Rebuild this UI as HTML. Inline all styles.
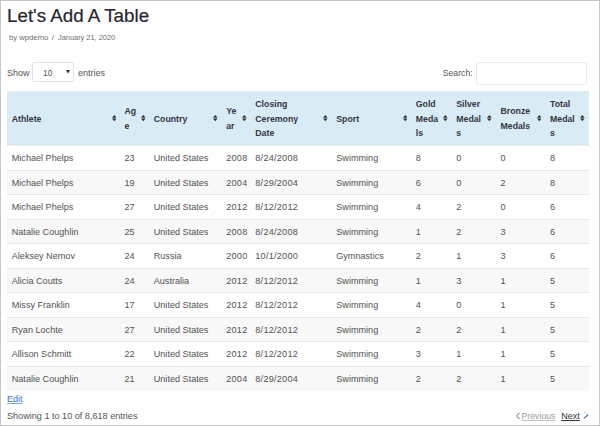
<!DOCTYPE html><html><head><meta charset="utf-8"><style>
*{margin:0;padding:0;box-sizing:border-box}
html,body{width:600px;height:426px;overflow:hidden;background:#fff}
body{font-family:"Liberation Sans",sans-serif;position:relative}
#frame{position:absolute;left:0;top:0;width:600px;height:426px;border:1px solid #c6c6c6}
.a{position:absolute;white-space:nowrap}
h1{position:absolute;left:7px;top:5px;font-size:18.8px;font-weight:400;color:#262630;line-height:22px;white-space:nowrap;-webkit-text-stroke:0.2px #262630}
.by{left:9px;top:32.8px;font-size:7.7px;color:#6d6d6d;line-height:10px}
.ctl{font-size:9px;color:#555;line-height:12px}
.sel{position:absolute;left:31.8px;top:62.3px;width:42.3px;height:19.5px;border:1px solid #e3e3e3;border-radius:2px;background:#fff}
.inp{position:absolute;left:475.7px;top:62px;width:111.8px;height:22.6px;border:1px solid #e9e9e9;border-radius:2.5px;background:#fff}
.thead{position:absolute;left:7px;top:91px;width:582px;height:54px;background:#d9ebf5;border-bottom:1px solid #d3e5ef}
.hl{position:absolute;left:7px;top:145px;width:582px;height:1px;background:#efeeed}
.th{position:absolute;font-size:8.75px;font-weight:700;color:#353540;line-height:14.7px;white-space:nowrap}
.row{position:absolute;left:7px;width:582px}
.row.odd{background:#fff}
.row.even{background:#f8f8f8}
.bd{position:absolute;left:7px;width:582px;height:1px;background:#e7e7e7}
.td{position:absolute;font-size:9.1px;color:#525252;line-height:12px;white-space:nowrap}
.si{position:absolute;width:4.6px;height:6.2px}
</style></head><body>
<div id="frame"></div>
<h1>Let's Add A Table</h1>
<div class="a by">by wpdemo</div><div class="a by" style="left:51.8px">/</div><div class="a by" style="left:58px;font-size:7.4px">January 21, 2020</div>
<div class="a ctl" style="left:7px;top:66.6px">Show</div>
<div class="sel"></div>
<div class="a ctl" style="left:43px;top:66.5px;font-size:8.4px">10</div>
<svg class="a" style="left:65.8px;top:70px" width="4" height="3.5" viewBox="0 0 4 3.5"><path d="M0 0H4L2 3.5Z" fill="#333"/></svg>
<div class="a ctl" style="left:78px;top:66.6px">entries</div>
<div class="a ctl" style="left:442.7px;top:67px;font-size:8.7px">Search:</div>
<div class="inp"></div>
<div class="thead"></div>
<div class="th" style="left:11.75px;top:111.75px">Athlete</div>
<svg class="si" style="left:111.70px;top:115px" viewBox="0 0 4.6 6.2"><path d="M0 2.7H4.6L2.3 0Z M0 3.5H4.6L2.3 6.2Z" fill="#2e2e38"/></svg>
<div class="th" style="left:124.5px;top:104.40px">Ag<br>e</div>
<svg class="si" style="left:141.10px;top:115px" viewBox="0 0 4.6 6.2"><path d="M0 2.7H4.6L2.3 0Z M0 3.5H4.6L2.3 6.2Z" fill="#2e2e38"/></svg>
<div class="th" style="left:153.75px;top:111.75px">Country</div>
<svg class="si" style="left:213.45px;top:115px" viewBox="0 0 4.6 6.2"><path d="M0 2.7H4.6L2.3 0Z M0 3.5H4.6L2.3 6.2Z" fill="#2e2e38"/></svg>
<div class="th" style="left:226.25px;top:104.40px">Ye<br>ar</div>
<svg class="si" style="left:242.10px;top:115px" viewBox="0 0 4.6 6.2"><path d="M0 2.7H4.6L2.3 0Z M0 3.5H4.6L2.3 6.2Z" fill="#2e2e38"/></svg>
<div class="th" style="left:255.3px;top:97.05px">Closing<br>Ceremony<br>Date</div>
<svg class="si" style="left:323.20px;top:115px" viewBox="0 0 4.6 6.2"><path d="M0 2.7H4.6L2.3 0Z M0 3.5H4.6L2.3 6.2Z" fill="#2e2e38"/></svg>
<div class="th" style="left:336.25px;top:111.75px">Sport</div>
<svg class="si" style="left:402.70px;top:115px" viewBox="0 0 4.6 6.2"><path d="M0 2.7H4.6L2.3 0Z M0 3.5H4.6L2.3 6.2Z" fill="#2e2e38"/></svg>
<div class="th" style="left:415.75px;top:97.05px">Gold<br>Meda<br>ls</div>
<svg class="si" style="left:443.45px;top:115px" viewBox="0 0 4.6 6.2"><path d="M0 2.7H4.6L2.3 0Z M0 3.5H4.6L2.3 6.2Z" fill="#2e2e38"/></svg>
<div class="th" style="left:456.25px;top:97.05px">Silver<br>Medal<br>s</div>
<svg class="si" style="left:487.20px;top:115px" viewBox="0 0 4.6 6.2"><path d="M0 2.7H4.6L2.3 0Z M0 3.5H4.6L2.3 6.2Z" fill="#2e2e38"/></svg>
<div class="th" style="left:500.5px;top:104.40px">Bronze<br>Medals</div>
<svg class="si" style="left:536.60px;top:115px" viewBox="0 0 4.6 6.2"><path d="M0 2.7H4.6L2.3 0Z M0 3.5H4.6L2.3 6.2Z" fill="#2e2e38"/></svg>
<div class="th" style="left:550px;top:97.05px">Total<br>Medal<br>s</div>
<svg class="si" style="left:580.20px;top:115px" viewBox="0 0 4.6 6.2"><path d="M0 2.7H4.6L2.3 0Z M0 3.5H4.6L2.3 6.2Z" fill="#2e2e38"/></svg>
<div class="hl"></div>
<div class="row odd" style="top:146px;height:24px"></div>
<div class="td" style="left:11.75px;top:152.30px">Michael Phelps</div>
<div class="td" style="left:124.5px;top:152.30px">23</div>
<div class="td" style="left:153.75px;top:152.30px">United States</div>
<div class="td" style="left:226.25px;top:152.30px;letter-spacing:0.25px">2008</div>
<div class="td" style="left:255.3px;top:152.30px;letter-spacing:0.25px">8/24/2008</div>
<div class="td" style="left:336.25px;top:152.30px">Swimming</div>
<div class="td" style="left:415.75px;top:152.30px">8</div>
<div class="td" style="left:456.25px;top:152.30px">0</div>
<div class="td" style="left:500.5px;top:152.30px">0</div>
<div class="td" style="left:550px;top:152.30px">8</div>
<div class="row even" style="top:171px;height:23px"></div>
<div class="bd" style="top:170px"></div>
<div class="td" style="left:11.75px;top:177.30px">Michael Phelps</div>
<div class="td" style="left:124.5px;top:177.30px">19</div>
<div class="td" style="left:153.75px;top:177.30px">United States</div>
<div class="td" style="left:226.25px;top:177.30px;letter-spacing:0.25px">2004</div>
<div class="td" style="left:255.3px;top:177.30px;letter-spacing:0.25px">8/29/2004</div>
<div class="td" style="left:336.25px;top:177.30px">Swimming</div>
<div class="td" style="left:415.75px;top:177.30px">6</div>
<div class="td" style="left:456.25px;top:177.30px">0</div>
<div class="td" style="left:500.5px;top:177.30px">2</div>
<div class="td" style="left:550px;top:177.30px">8</div>
<div class="row odd" style="top:195px;height:24px"></div>
<div class="bd" style="top:194px"></div>
<div class="td" style="left:11.75px;top:201.30px">Michael Phelps</div>
<div class="td" style="left:124.5px;top:201.30px">27</div>
<div class="td" style="left:153.75px;top:201.30px">United States</div>
<div class="td" style="left:226.25px;top:201.30px;letter-spacing:0.25px">2012</div>
<div class="td" style="left:255.3px;top:201.30px;letter-spacing:0.25px">8/12/2012</div>
<div class="td" style="left:336.25px;top:201.30px">Swimming</div>
<div class="td" style="left:415.75px;top:201.30px">4</div>
<div class="td" style="left:456.25px;top:201.30px">2</div>
<div class="td" style="left:500.5px;top:201.30px">0</div>
<div class="td" style="left:550px;top:201.30px">6</div>
<div class="row even" style="top:220px;height:23px"></div>
<div class="bd" style="top:219px"></div>
<div class="td" style="left:11.75px;top:226.30px">Natalie Coughlin</div>
<div class="td" style="left:124.5px;top:226.30px">25</div>
<div class="td" style="left:153.75px;top:226.30px">United States</div>
<div class="td" style="left:226.25px;top:226.30px;letter-spacing:0.25px">2008</div>
<div class="td" style="left:255.3px;top:226.30px;letter-spacing:0.25px">8/24/2008</div>
<div class="td" style="left:336.25px;top:226.30px">Swimming</div>
<div class="td" style="left:415.75px;top:226.30px">1</div>
<div class="td" style="left:456.25px;top:226.30px">2</div>
<div class="td" style="left:500.5px;top:226.30px">3</div>
<div class="td" style="left:550px;top:226.30px">6</div>
<div class="row odd" style="top:244px;height:24px"></div>
<div class="bd" style="top:243px"></div>
<div class="td" style="left:11.75px;top:250.30px">Aleksey Nemov</div>
<div class="td" style="left:124.5px;top:250.30px">24</div>
<div class="td" style="left:153.75px;top:250.30px">Russia</div>
<div class="td" style="left:226.25px;top:250.30px;letter-spacing:0.25px">2000</div>
<div class="td" style="left:255.3px;top:250.30px;letter-spacing:0.25px">10/1/2000</div>
<div class="td" style="left:336.25px;top:250.30px">Gymnastics</div>
<div class="td" style="left:415.75px;top:250.30px">2</div>
<div class="td" style="left:456.25px;top:250.30px">1</div>
<div class="td" style="left:500.5px;top:250.30px">3</div>
<div class="td" style="left:550px;top:250.30px">6</div>
<div class="row even" style="top:269px;height:23px"></div>
<div class="bd" style="top:268px"></div>
<div class="td" style="left:11.75px;top:275.30px">Alicia Coutts</div>
<div class="td" style="left:124.5px;top:275.30px">24</div>
<div class="td" style="left:153.75px;top:275.30px">Australia</div>
<div class="td" style="left:226.25px;top:275.30px;letter-spacing:0.25px">2012</div>
<div class="td" style="left:255.3px;top:275.30px;letter-spacing:0.25px">8/12/2012</div>
<div class="td" style="left:336.25px;top:275.30px">Swimming</div>
<div class="td" style="left:415.75px;top:275.30px">1</div>
<div class="td" style="left:456.25px;top:275.30px">3</div>
<div class="td" style="left:500.5px;top:275.30px">1</div>
<div class="td" style="left:550px;top:275.30px">5</div>
<div class="row odd" style="top:293px;height:24px"></div>
<div class="bd" style="top:292px"></div>
<div class="td" style="left:11.75px;top:299.30px">Missy Franklin</div>
<div class="td" style="left:124.5px;top:299.30px">17</div>
<div class="td" style="left:153.75px;top:299.30px">United States</div>
<div class="td" style="left:226.25px;top:299.30px;letter-spacing:0.25px">2012</div>
<div class="td" style="left:255.3px;top:299.30px;letter-spacing:0.25px">8/12/2012</div>
<div class="td" style="left:336.25px;top:299.30px">Swimming</div>
<div class="td" style="left:415.75px;top:299.30px">4</div>
<div class="td" style="left:456.25px;top:299.30px">0</div>
<div class="td" style="left:500.5px;top:299.30px">1</div>
<div class="td" style="left:550px;top:299.30px">5</div>
<div class="row even" style="top:318px;height:23px"></div>
<div class="bd" style="top:317px"></div>
<div class="td" style="left:11.75px;top:324.30px">Ryan Lochte</div>
<div class="td" style="left:124.5px;top:324.30px">27</div>
<div class="td" style="left:153.75px;top:324.30px">United States</div>
<div class="td" style="left:226.25px;top:324.30px;letter-spacing:0.25px">2012</div>
<div class="td" style="left:255.3px;top:324.30px;letter-spacing:0.25px">8/12/2012</div>
<div class="td" style="left:336.25px;top:324.30px">Swimming</div>
<div class="td" style="left:415.75px;top:324.30px">2</div>
<div class="td" style="left:456.25px;top:324.30px">2</div>
<div class="td" style="left:500.5px;top:324.30px">1</div>
<div class="td" style="left:550px;top:324.30px">5</div>
<div class="row odd" style="top:342px;height:24px"></div>
<div class="bd" style="top:341px"></div>
<div class="td" style="left:11.75px;top:348.30px">Allison Schmitt</div>
<div class="td" style="left:124.5px;top:348.30px">22</div>
<div class="td" style="left:153.75px;top:348.30px">United States</div>
<div class="td" style="left:226.25px;top:348.30px;letter-spacing:0.25px">2012</div>
<div class="td" style="left:255.3px;top:348.30px;letter-spacing:0.25px">8/12/2012</div>
<div class="td" style="left:336.25px;top:348.30px">Swimming</div>
<div class="td" style="left:415.75px;top:348.30px">3</div>
<div class="td" style="left:456.25px;top:348.30px">1</div>
<div class="td" style="left:500.5px;top:348.30px">1</div>
<div class="td" style="left:550px;top:348.30px">5</div>
<div class="row even" style="top:367px;height:24px"></div>
<div class="bd" style="top:366px"></div>
<div class="td" style="left:11.75px;top:373.30px">Natalie Coughlin</div>
<div class="td" style="left:124.5px;top:373.30px">21</div>
<div class="td" style="left:153.75px;top:373.30px">United States</div>
<div class="td" style="left:226.25px;top:373.30px;letter-spacing:0.25px">2004</div>
<div class="td" style="left:255.3px;top:373.30px;letter-spacing:0.25px">8/29/2004</div>
<div class="td" style="left:336.25px;top:373.30px">Swimming</div>
<div class="td" style="left:415.75px;top:373.30px">2</div>
<div class="td" style="left:456.25px;top:373.30px">2</div>
<div class="td" style="left:500.5px;top:373.30px">1</div>
<div class="td" style="left:550px;top:373.30px">5</div>
<div class="a" style="left:7px;top:392.8px;font-size:9px;color:#2f72d8;text-decoration:underline;text-decoration-color:#7aa6e8;line-height:12px">Edit</div>
<div class="a ctl" style="left:7px;top:409.5px;font-size:9.1px">Showing 1 to 10 of 8,618 entries</div>
<svg class="a" style="left:515.5px;top:411.5px" width="4" height="8" viewBox="0 0 4 8"><path d="M3.3 0.8L0.8 3.7M0.9 4.3L3.3 7" stroke="#555" stroke-width="1" fill="none"/></svg>
<div class="a ctl" style="left:521.6px;top:409.5px;font-size:8.7px;color:#9a9a9a;text-decoration:underline;text-decoration-color:#c4c4c4">Previous</div>
<div class="a ctl" style="left:561.2px;top:409.5px;color:#333;text-decoration:underline">Next</div>
<svg class="a" style="left:583px;top:411px" width="6" height="8" viewBox="0 0 6 8"><path d="M0.8 0.6L5 4" stroke="#c0dff3" stroke-width="1.3" fill="none"/><path d="M5 4L0.8 7.4" stroke="#5a6a80" stroke-width="1.2" fill="none"/></svg>
</body></html>
